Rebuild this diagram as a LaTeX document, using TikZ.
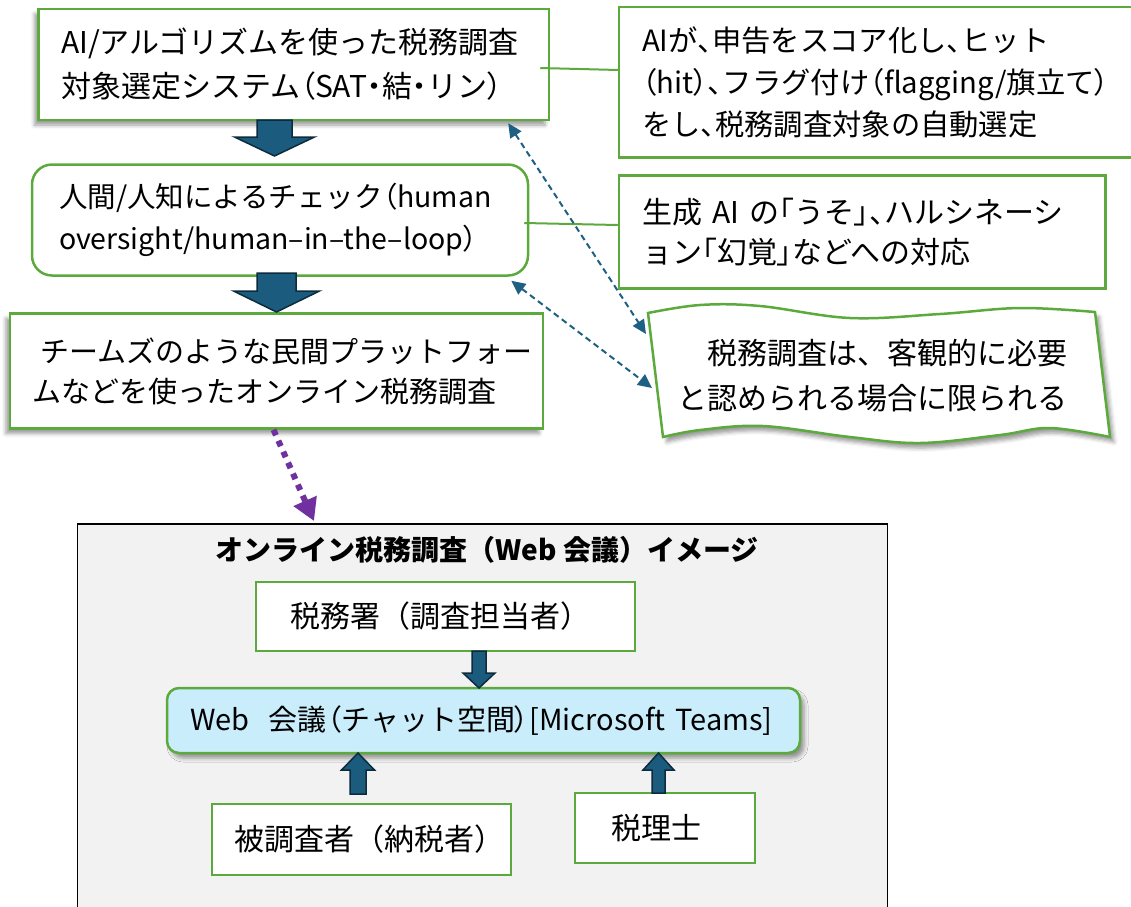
\documentclass[tikz,border=0pt]{standalone}
\usepackage{fontspec}
\setmainfont{Noto Sans CJK JP}
\newfontfamily\pf{Noto Sans CJK JP}[RawFeature=+palt]
\newcommand\LP{{\pf （}}
\newcommand\RP{{\pf ）}}
\newcommand\TN{{\pf 、}}
\newcommand\LB{{\pf 「}}
\newcommand\RB{{\pf 」}}
\newcommand\ND{{\pf ・}}
\usetikzlibrary{arrows.meta,shadows.blur,calc}
\definecolor{gboxc}{RGB}{92,170,62}
\definecolor{blkfill}{RGB}{27,92,126}
\definecolor{blkline}{RGB}{12,44,62}
\definecolor{dblue}{RGB}{30,96,130}
\definecolor{purp}{RGB}{112,48,160}
\definecolor{panelgray}{RGB}{242,242,242}
\definecolor{webfill}{RGB}{201,237,251}
\newcommand\blkarrow[6]{\draw[blk] (#1-#5,#2) -- (#1+#5,#2) -- (#1+#5,#3) -- (#1+#6,#3) -- (#1,#4) -- (#1-#6,#3) -- (#1-#5,#3) -- cycle;}
\begin{document}
\begin{tikzpicture}[x=1pt,y=-1pt,
  gbox/.style={draw=gboxc, line width=2.5pt, fill=white, inner sep=0pt, align=left},
  shadowbl/.style={blur shadow={shadow xshift=-4pt,shadow yshift=-5pt,shadow blur radius=4pt,shadow opacity=40}},
  shadowbr/.style={blur shadow={shadow xshift=4pt,shadow yshift=-5pt,shadow blur radius=4pt,shadow opacity=40}},
  blk/.style={fill=blkfill, draw=blkline, line width=1.5pt, line join=miter},
  dasharr/.style={draw=dblue, line width=2pt, dash pattern=on 6pt off 4pt,
    {Triangle[length=14pt,width=13pt]}-{Triangle[length=14pt,width=13pt]}},
  gline/.style={draw=gboxc, line width=2pt}
]
\useasboundingbox (0,0) rectangle (1131,906);

% top-left flow
\node[gbox, shadowbl, font=\fontsize{30}{44}\selectfont, minimum width=510.4pt, minimum height=111pt, text width=465.6pt] (A) at (293.8,64.5)
  {\mbox{AI/アルゴリズムを使った税務調査}\\\mbox{対象選定システム\LP SAT\ND 結\ND リン\RP}};
\node[gbox, rounded corners=20pt, font=\fontsize{28.5}{41}\selectfont, minimum width=496pt, minimum height=111pt, text width=442pt] (B) at (280,220)
  {\mbox{人間/人知によるチェック\LP human}\\[1pt]\mbox{oversight/human–in–the–loop\RP}};
\node[gbox, shadowbl, font=\fontsize{29}{40}\selectfont, minimum width=533pt, minimum height=115pt, text width=489pt] (C) at (276.5,371)
  {\mbox{\hspace*{8pt}チームズのような民間プラットフォー}\\\mbox{ムなどを使ったオンライン税務調査}};

% right boxes (box D runs off the right edge: its right side is not drawn)
\node[gbox, draw=none, font=\fontsize{29.3}{42}\selectfont, minimum width=510pt, minimum height=148pt, text width=466pt] (D) at (875,82)
  {\mbox{AIが\TN 申告をスコア化し\TN ヒット}\\\mbox{\LP hit\RP\TN フラグ付け\LP flagging/旗立て\RP}\\\mbox{をし\TN 税務調査対象の自動選定}};
\draw[draw=gboxc, line width=2.5pt] ($(D.north east)+(6,0)$) -- (D.north west) -- (D.south west) -- ($(D.south east)+(6,0)$);
\node[gbox, font=\fontsize{30}{40}\selectfont, minimum width=486.5pt, minimum height=113pt, text width=440pt] (E) at (862.25,232)
  {\mbox{生成 AI の\LB うそ\RB\TN ハルシネーシ}\\\mbox{ョン\LB 幻覚\RB などへの対応}};

% wavy box
\path[draw=gboxc, line width=2.5pt, fill=white, shadowbr]
  plot[smooth, tension=0.6] coordinates {(648,313) (700,305) (760,306) (850,318) (940,314) (1020,308) (1095,312)}
  -- (1110,437)
  -- plot[smooth, tension=0.6] coordinates {(1110,437) (1050,428) (1000,435) (920,443) (850,437) (763,426) (700,430) (663,437)}
  -- cycle;
\node[font=\fontsize{30}{45}\selectfont, align=right, anchor=east, inner sep=0pt] (F) at (1068,376)
  {税務調査は、客観的に必要\\と認められる場合に限られる};
\coordinate (fa1) at (646,334);
\coordinate (fa2) at (652,388);

% connectors
\draw[gline] ($(A.east)+(-10,3.5)$) -- ($(D.west)+(0,-12)$);
\draw[gline] ($(B.east)+(-5,3)$) -- ($(E.west)+(0,-7)$);
\draw[dasharr] ($(A.south east)+(-42,2)$) -- (fa1);
\draw[dasharr] ($(B.south east)+(-18,4)$) -- (fa2);

\blkarrow{274.5}{120}{137}{156}{17.5}{40}
\blkarrow{276.5}{273}{291}{312}{19.5}{43}

% bottom panel
\node[draw=black, line width=1.5pt, fill=panelgray, minimum width=809.8pt, minimum height=400pt, inner sep=0pt] (panel) at (482.6,724) {};
\coordinate (ptip) at (314,521);
\draw[draw=purp, line width=6pt, dash pattern=on 6pt off 6pt, -{Triangle[length=22pt,width=24pt]}] ($(C.south)+(-3,0)$) -- (ptip);

\node[font=\bfseries\fontsize{28}{34}\selectfont, inner sep=0pt] (title) at (487,550) {オンライン税務調査（Web 会議）イメージ};

\node[gbox, font=\fontsize{30}{36}\selectfont, minimum width=379pt, minimum height=69pt, text width=311pt] (S) at (445.5,616.5) {\mbox{税務署（調査担当者）}};
\node[gbox, font=\fontsize{29}{36}\selectfont, fill=webfill, rounded corners=12pt, shadowbr, minimum width=633pt, minimum height=65pt, text width=587pt] (W) at (483.5,720.5)
  {\mbox{Web\ \ 会議\LP チャット空間\RP[Microsoft Teams]}};
\node[gbox, font=\fontsize{30}{36}\selectfont, minimum width=299pt, minimum height=71pt, text width=255pt] (T) at (361.5,839.5) {\mbox{被調査者（納税者）}};
\node[gbox, font=\fontsize{30}{36}\selectfont, minimum width=180pt, minimum height=70pt, text width=108pt] (Z) at (665,828) {\mbox{税理士}};

\blkarrow{479}{651}{673}{688}{7}{16}
\blkarrow{358}{794}{770}{753}{8}{16.5}
\blkarrow{658.5}{793}{770}{753}{6.5}{15.5}
\end{tikzpicture}
\end{document}
